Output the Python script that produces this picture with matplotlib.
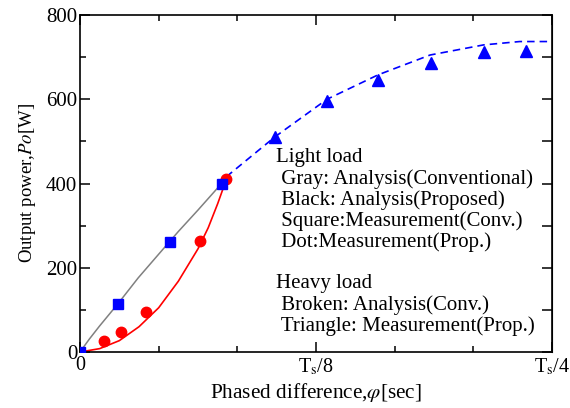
import matplotlib.pyplot as plt
from matplotlib.ticker import MultipleLocator

plt.rcParams['font.family'] = 'Liberation Serif'
plt.rcParams['mathtext.fontset'] = 'stix'
plt.rcParams['font.size'] = 15

# x in units of Ts/24 (0 .. 6 = Ts/4)
# Light load, analysis curves
gray_x = [0, 0.12, 0.25, 0.48, 0.74, 0.99, 1.25, 1.5, 1.8]
gray_y = [0, 31, 62, 114, 176, 230, 286, 337, 400]
red_x = [0, 0.25, 0.5, 0.75, 1.0, 1.25, 1.5, 1.63, 1.75, 1.88]
red_y = [0, 8, 27, 60, 105, 168, 245, 295, 352, 420]

# Light load, measurements
square_x = [0, 0.48, 1.15, 1.81]
square_y = [0, 113, 262, 400]
dot_x = [0.3, 0.52, 0.84, 1.52, 1.86]
dot_y = [26, 48, 94, 264, 411]

# Heavy load
dash_x = [1.86, 2.48, 3.14, 3.79, 4.45, 5.13, 5.59, 6.0]
dash_y = [416, 511, 600, 658, 705, 729, 737, 737]
tri_x = [2.48, 3.14, 3.79, 4.46, 5.14, 5.67]
tri_y = [511, 597, 646, 685, 713, 715]

xtick_pos = [0, 3, 6]
xtick_labels = ['0', r'T$_{\mathrm{s}}$/8', r'T$_{\mathrm{s}}$/4']

notes = ["Light load",
         " Gray: Analysis(Conventional)",
         " Black: Analysis(Proposed)",
         " Square:Measurement(Conv.)",
         " Dot:Measurement(Prop.)",
         "",
         "Heavy load",
         " Broken: Analysis(Conv.)",
         " Triangle: Measurement(Prop.)"]

fig = plt.figure(figsize=(5.7, 4.08), dpi=100)
ax = fig.add_axes([80 / 570, 56 / 408, 472 / 570, 337 / 408])

ax.plot(gray_x, gray_y, color='gray', lw=1.1)
ax.plot(red_x, red_y, color='red', lw=1.2)
ax.plot(dash_x, dash_y, color='blue', lw=1.2, dashes=(4.5, 3))
ax.plot(dot_x, dot_y, 'o', color='red', ms=7.5, zorder=3)
ax.plot(square_x, square_y, 's', color='blue', ms=7.5, zorder=4)
ax.plot(tri_x, tri_y, '^', color='blue', ms=9, zorder=3)

ax.set_xlim(0, 6)
ax.set_ylim(0, 800)
ax.set_xticks(xtick_pos)
ax.set_xticklabels(xtick_labels, fontsize=14.5)
ax.xaxis.set_minor_locator(MultipleLocator(1))
ax.yaxis.set_major_locator(MultipleLocator(200))
ax.yaxis.set_minor_locator(MultipleLocator(100))
ax.tick_params(which='major', direction='in', length=7, width=1.1,
               top=True, right=False, pad=3)
ax.tick_params(axis='y', labelsize=15, pad=2)
ax.tick_params(which='minor', direction='in', length=4, width=1.1,
               top=True, right=False)
for s in ax.spines.values():
    s.set_linewidth(1.2)

sec = ax.secondary_yaxis('right')
sec.yaxis.set_major_locator(MultipleLocator(100))
sec.tick_params(direction='in', length=7, width=1.1, labelright=False)

ax.set_xlabel(r'Phased difference,$\varphi$[sec]', fontsize=15.3, labelpad=3)
ax.set_ylabel(r'Output power,$Po$[W]', fontsize=13.5, labelpad=6)

y0 = 0.576
for i, line in enumerate(notes):
    ax.text(0.415, y0 - i * 0.0623, line, transform=ax.transAxes,
            fontsize=15, va='center', ha='left')

fig.savefig('out.png', dpi=100)
